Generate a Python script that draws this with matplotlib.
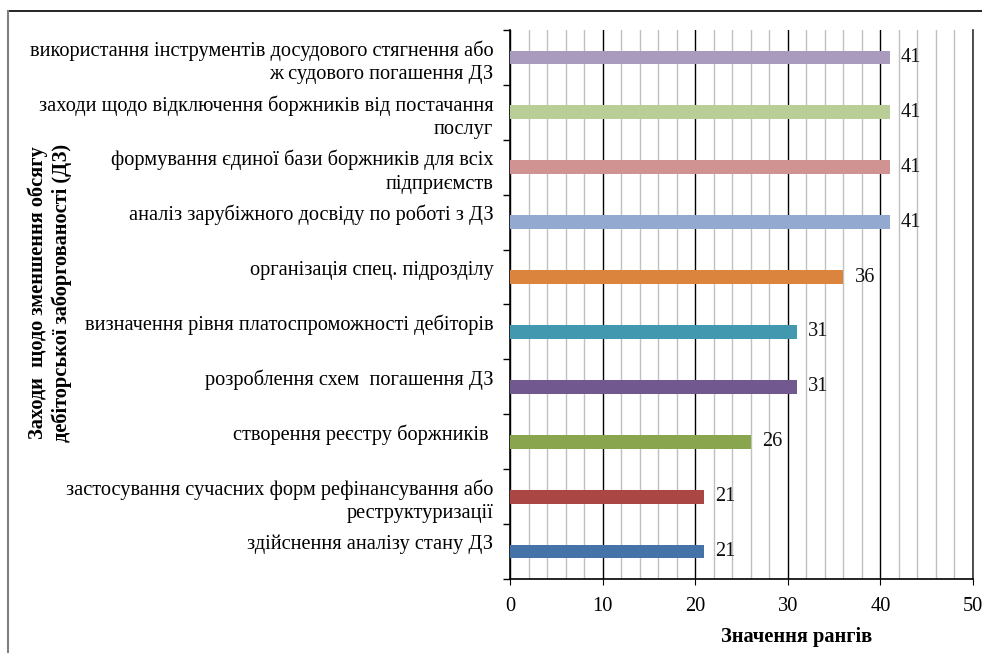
import numpy as np
import matplotlib.pyplot as plt
from matplotlib.ticker import MultipleLocator
from matplotlib.lines import Line2D

plt.rcParams['font.family'] = ['Liberation Serif', 'DejaVu Serif']

# категорії знизу вгору
categories = [
    "здійснення аналізу стану ДЗ\n",
    "застосування сучасних форм рефінансування або\nреструктуризації",
    "створення реєстру боржників \n",
    "розроблення схем  погашення ДЗ\n",
    "визначення рівня платоспроможності дебіторів\n",
    "організація спец. підрозділу\n",
    "аналіз зарубіжного досвіду по роботі з ДЗ\n",
    "формування єдиної бази боржників для всіх\nпідприємств",
    "заходи щодо відключення боржників від постачання\nпослуг",
    "використання інструментів досудового стягнення або\nж судового погашення ДЗ",
]
ranks = [21, 21, 26, 31, 31, 36, 41, 41, 41, 41]
colors = ["#4572A7", "#AA4643", "#89A54E", "#71588F", "#4198AF",
          "#DB843D", "#93A9CF", "#D19392", "#B9CD96", "#A99BBD"]

fs = 14.7

fig = plt.figure(figsize=(9.82, 6.53), dpi=100)
ax = fig.add_axes([510/982, 1-579/653, 463/982, 549/653])

y = np.arange(len(categories))
ax.barh(y, ranks, height=0.25, color=colors, zorder=3)
for yi, v in zip(y, ranks):
    ax.text(v + 1.2, yi, str(v), va='center', ha='left', fontsize=fs, color='#111111', zorder=4)

ax.set_xlim(0, 50)
ax.set_ylim(-0.5, len(categories) - 0.5)
ax.xaxis.set_major_locator(MultipleLocator(10))
ax.xaxis.set_minor_locator(MultipleLocator(2))
ax.grid(which='major', axis='x', color='black', linewidth=1.0, zorder=1)
ax.grid(which='minor', axis='x', color='#c0c0c0', linewidth=1.0, zorder=0)
ax.tick_params(axis='x', which='major', direction='out', length=4, labelsize=fs, pad=9)
ax.tick_params(axis='x', which='minor', length=0)

ax.set_yticks(y)
ax.set_yticklabels(categories, fontsize=fs, ha='right', multialignment='right',
                   linespacing=1.3)
ax.set_yticks(np.arange(-0.5, len(categories), 1), minor=True)
ax.tick_params(axis='y', which='major', length=0, pad=12)
ax.tick_params(axis='y', which='minor', direction='out', length=5, width=1)

ax.spines['top'].set_visible(False)
ax.spines['right'].set_color('#333333')
ax.spines['right'].set_linewidth(1.2)
for s in ['left', 'bottom']:
    ax.spines[s].set_linewidth(1.2)

fig.text(797/982, 1-637/653, "Значення рангів", ha='center', va='center',
         fontsize=fs, fontweight='bold')
fig.text(50/982, 1-293/653, "Заходи  щодо зменшення обсягу\nдебіторської заборгованості (ДЗ)",
         rotation=90, ha='center', va='center', fontsize=fs, fontweight='bold',
         multialignment='center')

# рамка
fig.add_artist(Line2D([8/982, 1], [1-11/653, 1-11/653], color='black', linewidth=1.2,
                      transform=fig.transFigure))
fig.add_artist(Line2D([8/982, 8/982], [0, 1-11/653], color='#808080', linewidth=1.5,
                      transform=fig.transFigure))

fig.savefig("out.png", dpi=100)
